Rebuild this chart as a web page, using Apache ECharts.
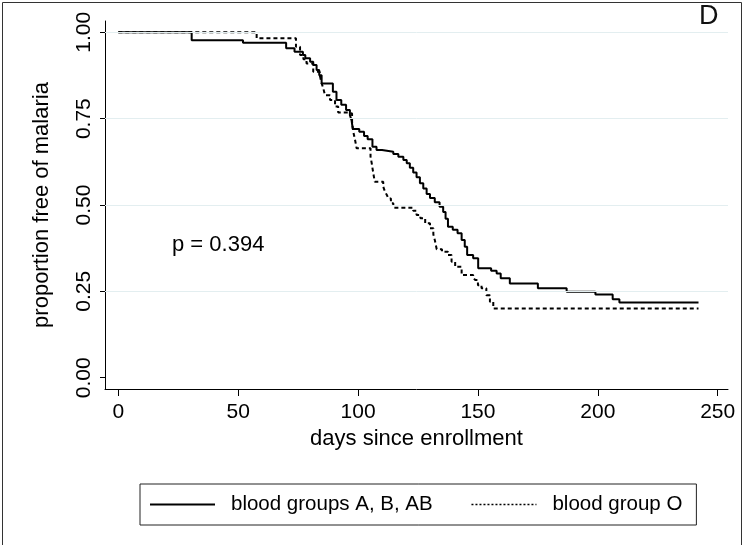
<!DOCTYPE html>
<html>
<head>
<meta charset="utf-8">
<script src="https://cdn.jsdelivr.net/npm/echarts@6/dist/echarts.min.js"></script>
<style>
html,body{margin:0;padding:0;background:#fff;}
#c{width:750px;height:545px;}
</style>
</head>
<body>
<div id="c"></div>
<script>
// ---- data ----
const xTicks = [0, 50, 100, 150, 200, 250];
const yTicks = [0, 0.25, 0.5, 0.75, 1];
const gridValues = [0.25, 0.5, 0.75, 1];

const seriesNames = ['blood groups A, B, AB', 'blood group O'];

const abDays = [0, 30.6, 52, 70, 73.5, 77, 78, 80, 81.3, 82.7, 83.8, 84.8, 89.5, 91, 93, 95, 96.6, 97.3, 97.8,
  100.5, 102.5, 104, 106, 107.7, 110, 114.7, 116.8, 118.9, 120.3, 121.6, 123, 124.4, 125.8, 127.2, 128.6, 130,
  132, 134, 135.5, 136.5, 137.5, 139.5, 141.5, 143.2, 144.5, 145.5, 148, 150.1, 155.5, 157.8, 159.5, 163.3,
  175, 187, 199, 206.2, 209, 242];
const abSurv = [1.0, 0.977, 0.970, 0.954, 0.944, 0.934, 0.925, 0.915, 0.905, 0.891, 0.876, 0.852, 0.828, 0.804, 0.790, 0.775, 0.760, 0.745, 0.720,
  0.712, 0.700, 0.690, 0.669, 0.659, 0.654, 0.648, 0.640, 0.630, 0.621, 0.608, 0.594, 0.580, 0.563, 0.548, 0.532, 0.520,
  0.508, 0.495, 0.480, 0.460, 0.437, 0.428, 0.418, 0.399, 0.379, 0.355, 0.346, 0.317, 0.310, 0.302, 0.288, 0.273,
  0.259, 0.249, 0.241, 0.227, 0.218, 0.218];

const oDays = [0, 57.7, 74.1, 75.8, 77.2, 78.5, 81.3, 84, 84.8, 85.5, 86.2, 88.3, 90.4, 91.7, 95.8, 97.5, 98, 98.7, 99.4,
  105.2, 105.7, 106.4, 107, 110.5, 111.2, 112, 112.6, 113.7, 114.7, 123, 124.4, 126, 128, 130, 131.4, 132, 132.8,
  135, 137.5, 139, 140.5, 143.2, 148, 148.8, 150, 151.5, 153.5, 155, 156.4, 242];
const oSurv = [1.0, 0.983, 0.958, 0.934, 0.922, 0.910, 0.886, 0.876, 0.852, 0.838, 0.818, 0.804, 0.785, 0.768, 0.765, 0.740, 0.712, 0.690, 0.664,
  0.640, 0.621, 0.590, 0.567, 0.553, 0.539, 0.529, 0.519, 0.505, 0.492, 0.483, 0.471, 0.462, 0.447, 0.433, 0.415, 0.399, 0.372,
  0.365, 0.355, 0.336, 0.321, 0.297, 0.290, 0.283, 0.268, 0.259, 0.239, 0.220, 0.200, 0.200];

const pText = 'p = 0.394';
const panelLetter = 'D';
const xTitle = 'days since enrollment';
const yTitle = 'proportion free of malaria';

// ---- chart ----
const FONT = '"Liberation Sans", Arial, Helvetica, sans-serif';
const zip = (a, b) => a.map((v, i) => [v, b[i]]);

const chart = echarts.init(document.getElementById('c'), null, {renderer: 'canvas'});
chart.setOption({
  animation: false,
  backgroundColor: '#ffffff',
  textStyle: {fontFamily: FONT, color: '#000'},
  grid: {left: 105, right: 22, top: 21, bottom: 156, containLabel: false},
  xAxis: {
    type: 'value', min: -5.55, max: 254.3,
    axisLine: {show: true, onZero: false, lineStyle: {color: '#000', width: 1}},
    axisTick: {show: true, length: 7, customValues: xTicks, lineStyle: {color: '#000'}},
    axisLabel: {show: true, customValues: xTicks, fontSize: 21, margin: 13, color: '#000', fontFamily: FONT},
    splitLine: {show: false},
    name: xTitle, nameLocation: 'middle', nameGap: 39,
    nameTextStyle: {fontSize: 22, color: '#000', fontFamily: FONT}
  },
  yAxis: {
    type: 'value', min: -0.0327, max: 1.0327,
    axisLine: {show: true, onZero: false, lineStyle: {color: '#000', width: 1}},
    axisTick: {show: true, length: 5, customValues: yTicks, lineStyle: {color: '#000'}},
    axisLabel: {show: true, customValues: yTicks, rotate: 90, fontSize: 21, margin: 10, color: '#000', fontFamily: FONT,
      formatter: v => Number(v).toFixed(2)},
    splitLine: {show: false},
    name: yTitle, nameLocation: 'middle', nameRotate: 90, nameGap: 52,
    nameTextStyle: {fontSize: 22, color: '#000', fontFamily: FONT}
  },
  legend: {
    data: [
      {name: seriesNames[0], lineStyle: {width: 2, type: 'solid'}},
      {name: seriesNames[1], lineStyle: {width: 1.5, type: [2, 2]}}
    ],
    left: 140, top: 484,
    orient: 'horizontal',
    padding: [10, 14, 10, 9],
    itemGap: 38,
    itemWidth: 65, itemHeight: 14,
    borderColor: '#222', borderWidth: 1,
    itemStyle: {opacity: 0, borderWidth: 0},
    textStyle: {fontSize: 20.5, color: '#000', fontFamily: FONT, padding: [0, 0, 0, 11]}
  },
  graphic: [
    {type: 'rect', left: 0, top: 0, shape: {x: 0.5, y: 0.5, width: 739, height: 543},
      style: {fill: null, stroke: '#333', lineWidth: 1}, silent: true, z: -1},
    {type: 'text', left: 172, top: 234, style: {text: pText, font: '22px ' + FONT, fill: '#000'}},
    {type: 'text', left: 699, top: 3, style: {text: panelLetter, font: '27px ' + FONT, fill: '#111'}}
  ],
  series: [
    {
      name: 'grid', type: 'line', data: [], silent: true, z: 1,
      markLine: {
        silent: true, symbol: 'none', label: {show: false},
        lineStyle: {color: '#e3eef0', width: 1, type: 'solid'},
        data: gridValues.map(v => ({yAxis: v}))
      }
    },
    {
      name: seriesNames[0], type: 'line', step: 'end', symbol: 'none', z: 3,
      lineStyle: {color: '#000', width: 2, type: 'solid'},
      itemStyle: {color: '#000'},
      data: zip(abDays, abSurv)
    },
    {
      name: seriesNames[1], type: 'line', step: 'end', symbol: 'none', z: 2,
      lineStyle: {color: '#000', width: 2, type: [4, 3]},
      itemStyle: {color: '#000'},
      data: zip(oDays, oSurv)
    }
  ]
});
</script>
</body>
</html>
